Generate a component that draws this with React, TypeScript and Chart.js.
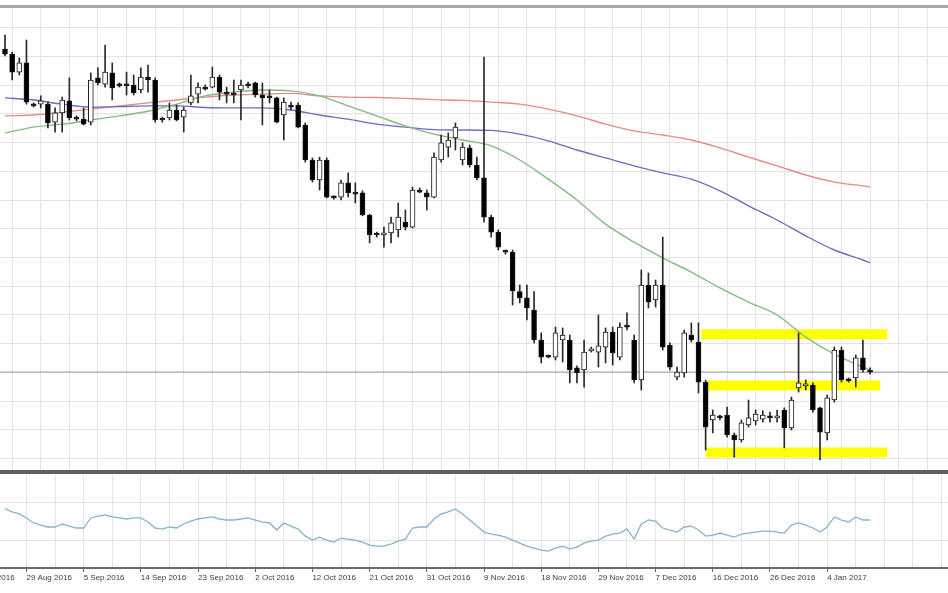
import React, { useEffect, useRef } from "react";
import { Chart, registerables } from "chart.js";

Chart.register(...registerables);

// ---- Daily EUR/USD candles (bar index 0 .. 121) ----
const OPEN = [
  1.1322, 1.1310, 1.1267, 1.1289, 1.1190, 1.1190, 1.1190, 1.1147, 1.1169, 1.1198,
  1.1159, 1.1154, 1.1147, 1.1253, 1.1238, 1.1265, 1.1236, 1.1236, 1.1236, 1.1224,
  1.1255, 1.1248, 1.1154, 1.1157, 1.1176, 1.1159, 1.1193, 1.1214, 1.1231, 1.1231,
  1.1255, 1.1217, 1.1214, 1.1224, 1.1236, 1.1241, 1.1212, 1.1207, 1.1205, 1.1164,
  1.1186, 1.1188, 1.1140, 1.1056, 1.1008, 1.1056, 1.0967, 1.0967, 1.1001, 1.0977,
  1.0977, 1.0924, 1.0878, 1.0876, 1.0881, 1.0888, 1.0907, 1.0895, 1.0982, 1.0977,
  1.0967, 1.1056, 1.1087, 1.1109, 1.1056, 1.1085, 1.1044, 1.1013, 1.0919, 1.0883,
  1.0838, 1.0835, 1.0740, 1.0725, 1.0696, 1.0624, 1.0586, 1.0583, 1.0624, 1.0624,
  1.0557, 1.0552, 1.0598, 1.0595, 1.0607, 1.0643, 1.0583, 1.0658, 1.0624, 1.0528,
  1.0756, 1.0720, 1.0756, 1.0612, 1.0535, 1.0545, 1.0636, 1.0619, 1.0523, 1.0432,
  1.0439, 1.0444, 1.0396, 1.0384, 1.0420, 1.0430, 1.0434, 1.0439, 1.0437, 1.0456,
  1.0413, 1.0509, 1.0514, 1.0516, 1.0461, 1.0401, 1.0480, 1.0600, 1.0528, 1.0533,
  1.0581, 1.0552,
];
const HIGH = [
  1.1356, 1.1315, 1.1301, 1.1344, 1.1193, 1.1210, 1.1195, 1.1181, 1.1207, 1.1253,
  1.1162, 1.1181, 1.1265, 1.1277, 1.1332, 1.1289, 1.1241, 1.1267, 1.1260, 1.1277,
  1.1284, 1.1253, 1.1159, 1.1193, 1.1188, 1.1183, 1.1260, 1.1241, 1.1236, 1.1279,
  1.1260, 1.1231, 1.1248, 1.1248, 1.1243, 1.1243, 1.1241, 1.1224, 1.1207, 1.1205,
  1.1195, 1.1193, 1.1145, 1.1061, 1.1063, 1.1061, 1.0970, 1.1008, 1.1025, 1.1001,
  1.0982, 1.0926, 1.0883, 1.0895, 1.0919, 1.0953, 1.0936, 1.0991, 1.0989, 1.0984,
  1.1073, 1.1116, 1.1121, 1.1145, 1.1097, 1.1092, 1.1063, 1.1303, 1.0924, 1.0888,
  1.0840, 1.0840, 1.0756, 1.0756, 1.0740, 1.0641, 1.0588, 1.0655, 1.0653, 1.0636,
  1.0562, 1.0624, 1.0607, 1.0684, 1.0653, 1.0655, 1.0665, 1.0689, 1.0636, 1.0792,
  1.0785, 1.0768, 1.0871, 1.0617, 1.0559, 1.0648, 1.0665, 1.0665, 1.0528, 1.0456,
  1.0444, 1.0463, 1.0401, 1.0432, 1.0480, 1.0456, 1.0454, 1.0451, 1.0456, 1.0461,
  1.0487, 1.0641, 1.0528, 1.0521, 1.0463, 1.0492, 1.0607, 1.0607, 1.0533, 1.0588,
  1.0624, 1.0557,
];
const LOW = [
  1.1306, 1.1248, 1.1260, 1.1190, 1.1183, 1.1181, 1.1133, 1.1123, 1.1123, 1.1152,
  1.1150, 1.1140, 1.1140, 1.1236, 1.1231, 1.1200, 1.1231, 1.1212, 1.1212, 1.1217,
  1.1219, 1.1147, 1.1147, 1.1152, 1.1150, 1.1123, 1.1188, 1.1193, 1.1224, 1.1229,
  1.1200, 1.1193, 1.1193, 1.1152, 1.1229, 1.1207, 1.1140, 1.1193, 1.1145, 1.1104,
  1.1176, 1.1133, 1.1051, 1.1003, 1.0984, 1.0965, 1.0962, 1.0960, 1.0967, 1.0953,
  1.0922, 1.0857, 1.0871, 1.0847, 1.0857, 1.0871, 1.0888, 1.0893, 1.0977, 1.0936,
  1.0965, 1.1051, 1.1063, 1.1080, 1.1044, 1.1039, 1.1008, 1.0907, 1.0871, 1.0840,
  1.0830, 1.0708, 1.0713, 1.0672, 1.0617, 1.0569, 1.0581, 1.0576, 1.0571, 1.0521,
  1.0521, 1.0511, 1.0595, 1.0559, 1.0569, 1.0564, 1.0576, 1.0648, 1.0521, 1.0504,
  1.0701, 1.0703, 1.0600, 1.0552, 1.0528, 1.0535, 1.0619, 1.0497, 1.0360, 1.0401,
  1.0432, 1.0391, 1.0343, 1.0379, 1.0415, 1.0420, 1.0427, 1.0427, 1.0427, 1.0365,
  1.0408, 1.0499, 1.0504, 1.0451, 1.0336, 1.0384, 1.0475, 1.0523, 1.0523, 1.0511,
  1.0547, 1.0542,
];
const CLOSE = [
  1.1310, 1.1267, 1.1289, 1.1195, 1.1186, 1.1198, 1.1145, 1.1169, 1.1200, 1.1157,
  1.1154, 1.1142, 1.1248, 1.1241, 1.1267, 1.1229, 1.1234, 1.1234, 1.1217, 1.1255,
  1.1248, 1.1152, 1.1152, 1.1176, 1.1152, 1.1176, 1.1210, 1.1231, 1.1226, 1.1255,
  1.1219, 1.1214, 1.1212, 1.1236, 1.1234, 1.1212, 1.1205, 1.1205, 1.1147, 1.1195,
  1.1183, 1.1135, 1.1056, 1.1008, 1.1056, 1.0967, 1.0965, 1.1001, 1.0977, 1.0974,
  1.0924, 1.0876, 1.0876, 1.0881, 1.0905, 1.0919, 1.0895, 1.0984, 1.0979, 1.0967,
  1.1063, 1.1097, 1.1104, 1.1135, 1.1087, 1.1044, 1.1013, 1.0919, 1.0883, 1.0847,
  1.0835, 1.0742, 1.0725, 1.0701, 1.0624, 1.0583, 1.0583, 1.0641, 1.0636, 1.0552,
  1.0545, 1.0595, 1.0602, 1.0610, 1.0643, 1.0593, 1.0655, 1.0655, 1.0528, 1.0756,
  1.0715, 1.0756, 1.0607, 1.0559, 1.0547, 1.0641, 1.0624, 1.0523, 1.0415, 1.0444,
  1.0437, 1.0396, 1.0384, 1.0425, 1.0437, 1.0446, 1.0444, 1.0437, 1.0439, 1.0413,
  1.0480, 1.0521, 1.0518, 1.0456, 1.0403, 1.0485, 1.0600, 1.0528, 1.0526, 1.0581,
  1.0552, 1.0547,
];

// ---- Moving averages, read every 4th bar ----
const MA_BAR_INDEX = [
  0, 4, 8, 12, 16, 20, 24, 28, 32, 36, 40, 44, 48, 52, 56, 60,
  64, 68, 72, 76, 80, 84, 88, 92, 96, 100, 104, 108, 112, 116, 120, 121,
];
const MA_RED = [
  1.1162, 1.1164, 1.1171, 1.1178, 1.1186, 1.1193, 1.1200, 1.1207, 1.1212, 1.1214, 1.1216,
  1.1210, 1.1207, 1.1206, 1.1204, 1.1201, 1.1199, 1.1195, 1.1190, 1.1178, 1.1162, 1.1142,
  1.1126, 1.1116, 1.1104, 1.1085, 1.1063, 1.1042, 1.1020, 1.1003, 1.0994, 1.0991,
];
const MA_BLUE = [
  1.1205, 1.1200, 1.1190, 1.1183, 1.1184, 1.1186, 1.1186, 1.1182, 1.1181, 1.1181, 1.1176,
  1.1164, 1.1154, 1.1142, 1.1135, 1.1129, 1.1128, 1.1127, 1.1118, 1.1102, 1.1080, 1.1061,
  1.1042, 1.1025, 1.1010, 1.0982, 1.0946, 1.0912, 1.0874, 1.0840, 1.0816, 1.0809,
];
const MA_GREEN = [
  1.1121, 1.1135, 1.1142, 1.1152, 1.1162, 1.1173, 1.1190, 1.1210, 1.1219, 1.1224, 1.1222,
  1.1210, 1.1186, 1.1162, 1.1138, 1.1118, 1.1104, 1.1090, 1.1056, 1.1010, 1.0960, 1.0902,
  1.0859, 1.0821, 1.0787, 1.0749, 1.0715, 1.0684, 1.0631, 1.0590, 1.0559, 1.0552,
];

// ---- Yellow support/resistance bands: [fromBar, toBar, price] ----
const BAND_FROM = [97.4, 98.2, 98.0];
const BAND_TO = [123.4, 122.4, 123.4];
const BAND_PRICE = [1.0638, 1.0515, 1.0354];

// ---- Lower oscillator panel (0-100) ----
const OSC = [
  63.5, 60.3, 58.1, 53.8, 48.4, 46.2, 44.1, 44.1, 47.3, 45.1,
  43.0, 43.0, 53.8, 55.9, 57.0, 54.9, 53.8, 52.7, 53.8, 53.8,
  49.5, 43.0, 41.9, 44.1, 43.0, 47.3, 50.5, 52.7, 53.8, 54.9,
  52.7, 51.6, 51.6, 52.7, 53.8, 51.6, 49.5, 48.4, 40.8, 48.4,
  45.1, 41.9, 34.3, 30.0, 33.2, 30.0, 27.8, 32.2, 31.1, 30.0,
  27.8, 24.6, 23.5, 23.5, 25.7, 28.9, 31.1, 43.0, 44.1, 44.1,
  52.7, 58.1, 60.3, 63.5, 58.1, 51.6, 45.1, 38.6, 36.5, 35.4,
  33.2, 30.0, 26.8, 23.5, 21.4, 19.2, 18.1, 21.4, 23.5, 20.3,
  22.4, 26.8, 28.9, 30.0, 34.3, 36.5, 37.6, 41.9, 31.1, 47.3,
  51.6, 50.5, 43.0, 40.8, 38.6, 44.1, 45.1, 40.8, 34.3, 35.4,
  37.6, 35.4, 33.2, 36.5, 37.6, 38.6, 39.7, 39.7, 38.6, 37.6,
  46.2, 48.4, 46.2, 43.0, 38.6, 44.1, 54.9, 51.6, 49.5, 54.9,
  51.6, 51.6,
];
const OSC_LEVELS = [30, 70];

// ---- Time axis ----
const X_LABEL_BARS = [-5, 3, 11, 19, 27, 35, 43, 51, 59, 67, 75, 83, 91, 99, 107, 115];
const X_LABELS = [
  "19 Aug 2016", "29 Aug 2016", "5 Sep 2016", "14 Sep 2016", "23 Sep 2016", "2 Oct 2016",
  "12 Oct 2016", "21 Oct 2016", "31 Oct 2016", "9 Nov 2016", "18 Nov 2016", "29 Nov 2016",
  "7 Dec 2016", "16 Dec 2016", "26 Dec 2016", "4 Jan 2017",
];
const X_MIN = -0.7;
const X_MAX = 131.9;
const Y_MIN = 1.0312;
const Y_MAX = 1.14208;
const PRICE_GRID_TOP = 1.1374;
const PRICE_GRID_STEP = 0.0069;

const GRID_COLOR = "#e3e3e3";

function xGridTicks(scale: any) {
  const t: any[] = [];
  for (let v = -5; v <= 132; v += 4) t.push({ value: v });
  scale.ticks = t;
}

function fitNoPad(s: any, h?: number, w?: number) {
  if (h !== undefined) s.height = h;
  if (w !== undefined) s.width = w;
  s.paddingLeft = 0;
  s.paddingRight = 0;
  s.paddingTop = 0;
  s.paddingBottom = 0;
}

const framePlugin = {
  id: "mtFrame",
  afterDraw(chart: any) {
    const { ctx, chartArea, width } = chart;
    ctx.save();
    ctx.fillStyle = "#a8a8a8";
    ctx.fillRect(0, chartArea.top - 3, width, 3);
    ctx.fillStyle = "#5f5f5f";
    ctx.fillRect(0, chartArea.bottom, width, 4);
    ctx.restore();
  },
};

export default function App() {
  const mainRef = useRef<HTMLCanvasElement | null>(null);
  const subRef = useRef<HTMLCanvasElement | null>(null);

  useEffect(() => {
    const bars = OPEN.map((_, i) => i);
    const lastClose = CLOSE[CLOSE.length - 1];

    const maLine = (vals: number[], color: string, order: number) => ({
      type: "line",
      data: vals.map((v, k) => ({ x: MA_BAR_INDEX[k], y: v })),
      borderColor: color,
      borderWidth: 1.4,
      pointRadius: 0,
      cubicInterpolationMode: "monotone",
      order,
    });

    const bandSets = BAND_PRICE.map((p, k) => ({
      type: "line",
      data: [
        { x: BAND_FROM[k], y: p },
        { x: BAND_TO[k], y: p },
      ],
      borderColor: "#ffff00",
      borderWidth: 10,
      borderCapStyle: "butt",
      pointRadius: 0,
      order: 8,
    }));

    const main = new Chart(mainRef.current as HTMLCanvasElement, {
      type: "bar",
      data: {
        datasets: [
          ...bandSets,
          {
            type: "line",
            data: [
              { x: X_MIN, y: lastClose },
              { x: X_MAX, y: lastClose },
            ],
            borderColor: "#9a9a9a",
            borderWidth: 1,
            pointRadius: 0,
            order: 7,
          },
          maLine(MA_RED, "#e58c86", 5),
          maLine(MA_BLUE, "#6d6dc0", 4),
          maLine(MA_GREEN, "#84ba84", 3),
          {
            type: "bar",
            data: bars.map((i) => ({ x: i, y: [LOW[i], HIGH[i]] })),
            backgroundColor: "#2a2a2a",
            borderWidth: 0,
            barThickness: 1,
            grouped: false,
            order: 2,
          },
          {
            type: "bar",
            data: bars.map((i) => ({ x: i, y: [OPEN[i], CLOSE[i]] })),
            backgroundColor: bars.map((i) => (CLOSE[i] >= OPEN[i] ? "#ffffff" : "#000000")),
            borderColor: "#1a1a1a",
            borderWidth: 1,
            borderSkipped: false,
            barThickness: 5,
            minBarLength: 2,
            grouped: false,
            order: 1,
          },
        ] as any,
      },
      options: {
        animation: false,
        responsive: false,
        maintainAspectRatio: false,
        events: [],
        layout: { autoPadding: false, padding: { top: 8, bottom: 5, left: 0, right: 0 } },
        plugins: { legend: { display: false }, tooltip: { enabled: false } },
        scales: {
          x: {
            type: "linear",
            min: X_MIN,
            max: X_MAX,
            offset: false,
            afterBuildTicks: xGridTicks,
            ticks: { display: false },
            grid: { color: GRID_COLOR, drawTicks: false, lineWidth: 1 },
            border: { display: false },
            afterFit: (s: any) => fitNoPad(s, 0, undefined),
          },
          y: {
            type: "linear",
            min: Y_MIN,
            max: Y_MAX,
            afterBuildTicks: (s: any) => {
              const t: any[] = [];
              for (let n = 0; n < 17; n++) t.push({ value: PRICE_GRID_TOP - PRICE_GRID_STEP * n });
              s.ticks = t;
            },
            ticks: { display: false },
            grid: { color: GRID_COLOR, drawTicks: false },
            border: { display: false },
            afterFit: (s: any) => fitNoPad(s, undefined, 0),
          },
        },
      } as any,
      plugins: [framePlugin],
    });

    const labelFor = (v: number) => {
      const k = X_LABEL_BARS.indexOf(v);
      return k >= 0 ? X_LABELS[k] : "";
    };

    const sub = new Chart(subRef.current as HTMLCanvasElement, {
      type: "line",
      data: {
        datasets: [
          {
            data: bars.map((i) => ({ x: i, y: OSC[i] })),
            borderColor: "#87b3cb",
            borderWidth: 1.3,
            pointRadius: 0,
            tension: 0,
          },
        ],
      },
      options: {
        animation: false,
        responsive: false,
        maintainAspectRatio: false,
        events: [],
        layout: { autoPadding: false, padding: { top: 0, bottom: 0, left: 0, right: 0 } },
        plugins: { legend: { display: false }, tooltip: { enabled: false } },
        scales: {
          x: {
            type: "linear",
            min: X_MIN,
            max: X_MAX,
            offset: false,
            afterBuildTicks: xGridTicks,
            ticks: {
              display: true,
              autoSkip: false,
              maxRotation: 0,
              minRotation: 0,
              align: "start",
              padding: 1,
              color: "#3c3c3c",
              font: { family: "'Liberation Sans', Arial, sans-serif", size: 8 },
              callback: (v: any) => labelFor(Number(v)),
            },
            grid: {
              color: GRID_COLOR,
              drawTicks: true,
              tickLength: 4,
              tickColor: (ctx: any) => (ctx.tick && ctx.tick.label ? "#666666" : "rgba(0,0,0,0)"),
            },
            border: { display: true, color: "#6a6a6a", width: 2 },
            afterFit: (s: any) => fitNoPad(s, 25, undefined),
          },
          y: {
            type: "linear",
            min: 0,
            max: 100,
            afterBuildTicks: (s: any) => {
              s.ticks = OSC_LEVELS.map((v) => ({ value: v }));
            },
            ticks: { display: false },
            grid: { color: GRID_COLOR, drawTicks: false },
            border: { display: false },
            afterFit: (s: any) => fitNoPad(s, undefined, 0),
          },
        },
      } as any,
    });

    return () => {
      main.destroy();
      sub.destroy();
    };
  }, []);

  return (
    <div
      style={{
        position: "absolute",
        left: 0,
        top: 0,
        width: 948,
        height: 593,
        background: "#ffffff",
        overflow: "hidden",
      }}
    >
      <canvas
        ref={mainRef}
        width={948}
        height={475}
        style={{ position: "absolute", left: 0, top: 0, width: 948, height: 475 }}
      />
      <canvas
        ref={subRef}
        width={948}
        height={118}
        style={{ position: "absolute", left: 0, top: 475, width: 948, height: 118 }}
      />
    </div>
  );
}
